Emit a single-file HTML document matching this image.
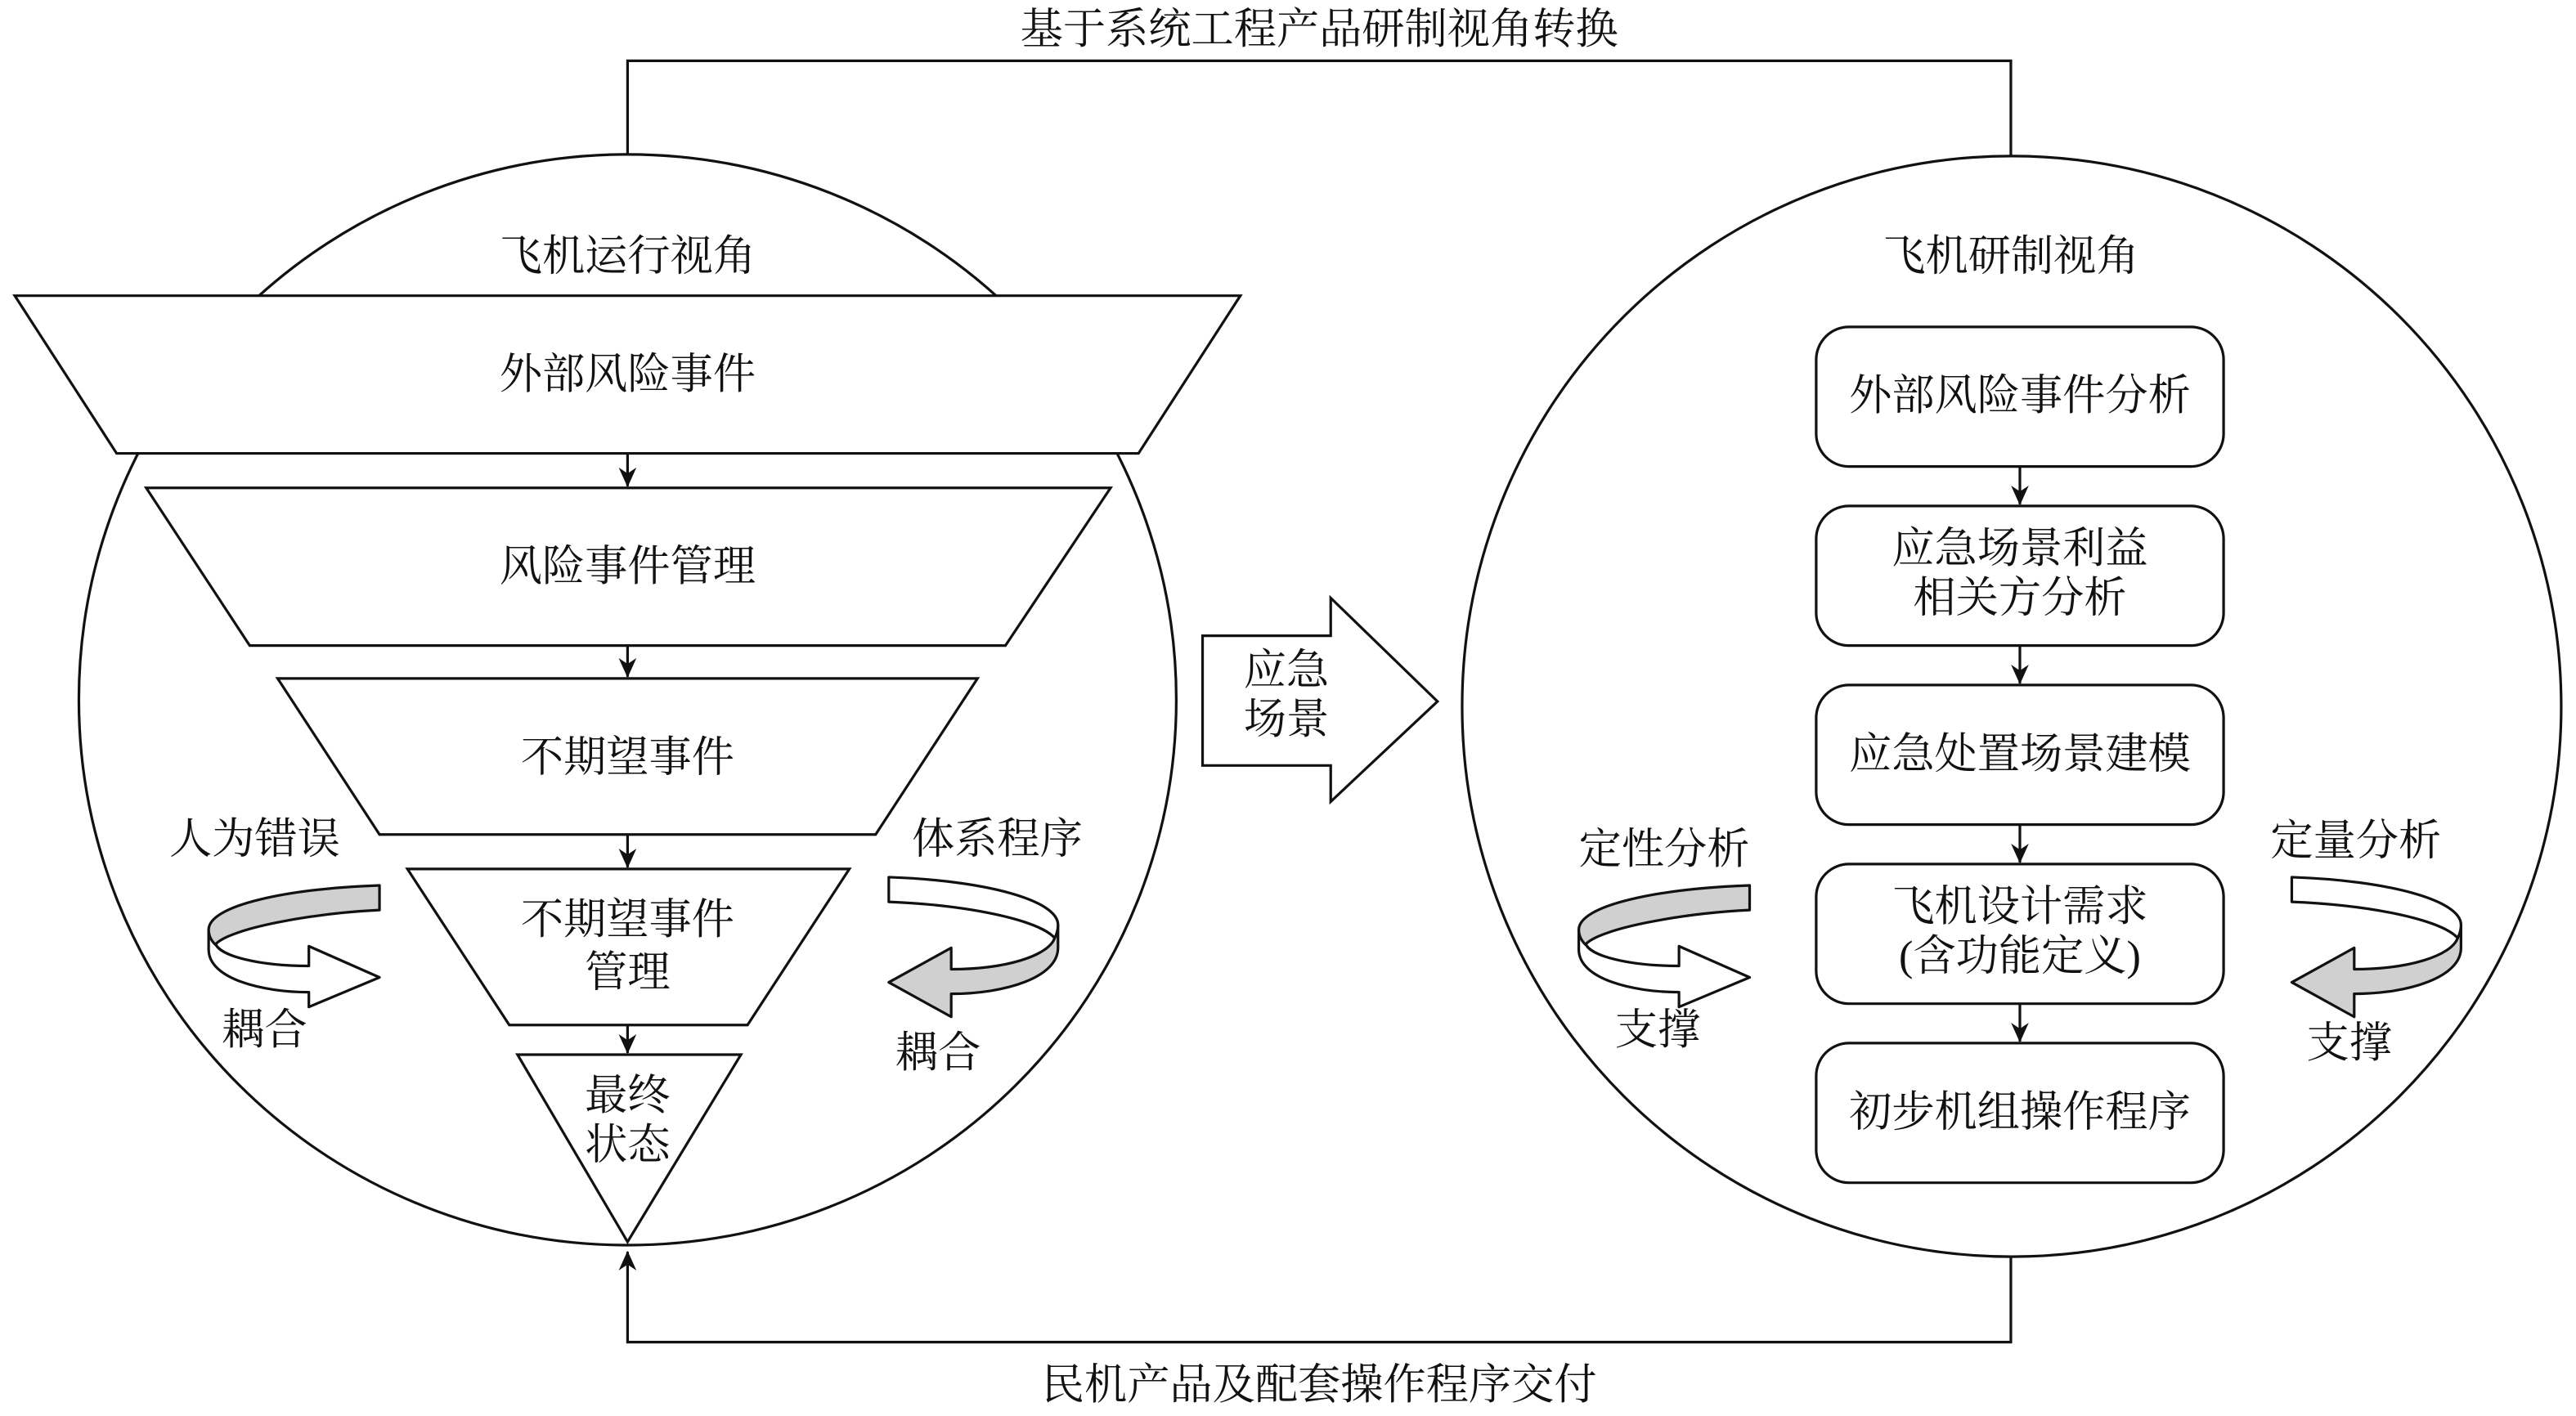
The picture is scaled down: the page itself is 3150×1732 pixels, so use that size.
<!DOCTYPE html>
<html><head><meta charset="utf-8"><style>
html,body{margin:0;padding:0;background:#fff;}
svg{display:block;}
text{font-family:"Liberation Serif","Noto Serif CJK SC","Noto Sans CJK SC",serif;font-size:26px;fill:#111;text-anchor:middle;dominant-baseline:central;}
</style></head><body>
<svg width="3150" height="1732" viewBox="0 0 1568 862" preserveAspectRatio="none" xmlns="http://www.w3.org/2000/svg">
<defs>
<marker id="ah" markerWidth="12" markerHeight="18" refX="9.5" refY="5" orient="auto" markerUnits="userSpaceOnUse" viewBox="0 0 10 10">
<path d="M0,0.5 L10,5 L0,9.5 L3,5 Z" fill="#111"/>
</marker>
</defs>
<g stroke="#111" stroke-width="1.6" fill="none">
<polyline points="382,95 382,37 1224,37 1224,95"/>
<polyline points="1224,765 1224,817 382,817 382,762" marker-end="url(#ah)"/>
<ellipse cx="382" cy="426" rx="334" ry="332" fill="#fff"/>
<ellipse cx="1224.5" cy="430" rx="334.5" ry="335" fill="#fff"/>
<polygon points="9,180 755,180 693,276 71,276" fill="#fff"/>
<polygon points="89,297 676,297 612,393 152,393" fill="#fff"/>
<polygon points="169,413 595,413 533,508 231,508" fill="#fff"/>
<polygon points="248,529 517,529 455,624 310,624" fill="#fff"/>
<polygon points="315,642 451,642 382,756" fill="#fff"/>
<line x1="382" y1="276" x2="382" y2="296" marker-end="url(#ah)"/>
<line x1="382" y1="393" x2="382" y2="412" marker-end="url(#ah)"/>
<line x1="382" y1="508" x2="382" y2="528" marker-end="url(#ah)"/>
<line x1="382" y1="624" x2="382" y2="641" marker-end="url(#ah)"/>
<polygon points="732,387 810,387 810,364 875,427 810,488 810,466 732,466" fill="#fff"/>
<rect x="1105.5" y="199" width="248" height="85" rx="20" fill="#fff"/>
<rect x="1105.5" y="308" width="248" height="85" rx="20" fill="#fff"/>
<rect x="1105.5" y="417" width="248" height="85" rx="20" fill="#fff"/>
<rect x="1105.5" y="526" width="248" height="85" rx="20" fill="#fff"/>
<rect x="1105.5" y="635" width="248" height="85" rx="20" fill="#fff"/>
<line x1="1229.5" y1="284" x2="1229.5" y2="307" marker-end="url(#ah)"/>
<line x1="1229.5" y1="393" x2="1229.5" y2="416" marker-end="url(#ah)"/>
<line x1="1229.5" y1="502" x2="1229.5" y2="525" marker-end="url(#ah)"/>
<line x1="1229.5" y1="611" x2="1229.5" y2="634" marker-end="url(#ah)"/>
</g>
<g id="curlA" stroke="#111" stroke-width="1.6" stroke-linejoin="round">
<path d="M127,566 L127,578 C127,596 160,604 188,604 L188,613 L231,595 L188,576 L188,588 C158,588 133,582 131,574 Z" fill="#fff"/>
<path d="M231,539 C175,541 127,551 127,566 C127,570 129,573 131,575 C140,565 190,556 231,554 Z" fill="#d0d0d0"/>
</g>
<use href="#curlA" transform="translate(834,0)"/>
<g id="curlB" stroke="#111" stroke-width="1.6" stroke-linejoin="round">
<path d="M644,563 L644,577 C644,595 612,605 579,605 L579,619 L541,598 L579,577 L579,590 C612,590 638,582 642,571 Z" fill="#d0d0d0"/>
<path d="M541,534 C600,536 644,548 644,563 C644,566 643,569 642,571 C632,560 590,551 541,549 Z" fill="#fff"/>
</g>
<use href="#curlB" transform="translate(854,0)"/>
<text x="803" y="18">基于系统工程产品研制视角转换</text>
<text x="803" y="843">民机产品及配套操作程序交付</text>
<text x="382" y="156">飞机运行视角</text>
<text x="382" y="228">外部风险事件</text>
<text x="382" y="345">风险事件管理</text>
<text x="382" y="461">不期望事件</text>
<text x="382" y="560">不期望事件</text>
<text x="382" y="592">管理</text>
<text x="382" y="667">最终</text>
<text x="382" y="697">状态</text>
<text x="155" y="511">人为错误</text>
<text x="607" y="511">体系程序</text>
<text x="161" y="627">耦合</text>
<text x="571" y="641">耦合</text>
<text x="783" y="408">应急</text>
<text x="783" y="438">场景</text>
<text x="1224" y="156">飞机研制视角</text>
<text x="1229.5" y="241">外部风险事件分析</text>
<text x="1229.5" y="334">应急场景利益</text>
<text x="1229.5" y="364">相关方分析</text>
<text x="1229.5" y="459">应急处置场景建模</text>
<text x="1229.5" y="552">飞机设计需求</text>
<text x="1229.5" y="582">(含功能定义)</text>
<text x="1229.5" y="677">初步机组操作程序</text>
<text x="1013" y="517">定性分析</text>
<text x="1009" y="627">支撑</text>
<text x="1434" y="512">定量分析</text>
<text x="1430" y="635">支撑</text>
</svg>
</body></html>
